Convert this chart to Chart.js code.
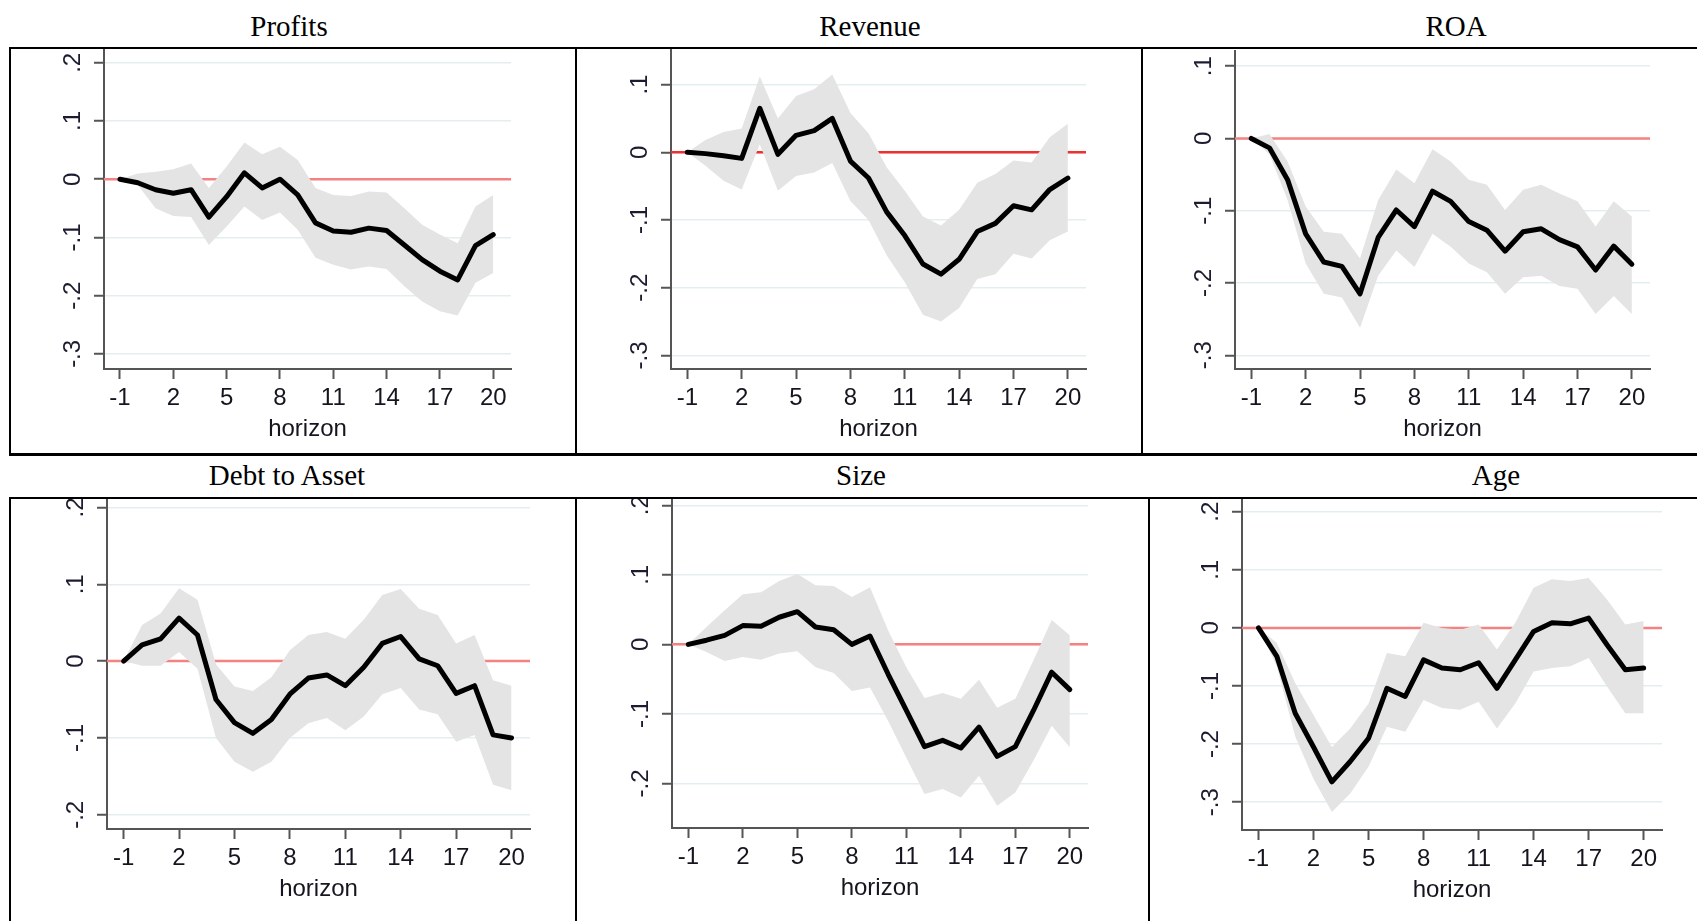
<!DOCTYPE html>
<html>
<head>
<meta charset="utf-8">
<script src="https://cdn.jsdelivr.net/npm/chart.js@4.4.1/dist/chart.umd.min.js"></script>
<style>
  html, body { margin: 0; padding: 0; background: #fff; }
  body { width: 1697px; height: 921px; position: relative; overflow: hidden; }
  .title { position: absolute; font-family: "Liberation Serif", "Times New Roman", serif; font-size: 29px; color: #000; transform: translate(-50%, -50%); white-space: nowrap; }
  .rule { position: absolute; background: #000; }
  canvas { position: absolute; }
</style>
</head>
<body>
<script>
// horizons and x tick labels
const horizon = [-1, 0, 1, 2, 3, 4, 5, 6, 7, 8, 9, 10, 11, 12, 13, 14, 15, 16, 17, 18, 19, 20];
const xTickLabels = [-1, 2, 5, 8, 11, 14, 17, 20];

// Profits
const profitsIrf = [0, -0.006, -0.018, -0.024, -0.018, -0.065, -0.03, 0.011, -0.015, 0, -0.027, -0.075, -0.089, -0.091, -0.084, -0.088, -0.113, -0.138, -0.158, -0.173, -0.114, -0.095];
const profitsHi  = [0, 0.01, 0.013, 0.017, 0.027, -0.015, 0.022, 0.063, 0.043, 0.056, 0.033, -0.015, -0.027, -0.029, -0.021, -0.023, -0.05, -0.078, -0.095, -0.11, -0.047, -0.027];
const profitsLo  = [0, -0.01, -0.05, -0.063, -0.065, -0.113, -0.081, -0.047, -0.07, -0.057, -0.087, -0.135, -0.147, -0.155, -0.15, -0.154, -0.184, -0.21, -0.227, -0.234, -0.178, -0.161];
const profitsTicks = [0.2, 0.1, 0, -0.1, -0.2, -0.3];

// Revenue
const revenueIrf = [0, -0.002, -0.005, -0.009, 0.065, -0.003, 0.025, 0.032, 0.05, -0.013, -0.038, -0.088, -0.123, -0.165, -0.18, -0.158, -0.117, -0.105, -0.079, -0.085, -0.055, -0.038];
const revenueHi  = [0, 0.018, 0.03, 0.035, 0.112, 0.05, 0.083, 0.093, 0.115, 0.058, 0.028, -0.022, -0.057, -0.095, -0.108, -0.085, -0.045, -0.032, -0.012, -0.015, 0.022, 0.042];
const revenueLo  = [0, -0.02, -0.042, -0.055, 0.012, -0.057, -0.035, -0.03, -0.016, -0.072, -0.1, -0.152, -0.192, -0.24, -0.25, -0.23, -0.187, -0.18, -0.15, -0.157, -0.13, -0.117];
const revenueTicks = [0.1, 0, -0.1, -0.2, -0.3];

// ROA
const roaIrf = [0, -0.013, -0.057, -0.132, -0.171, -0.177, -0.215, -0.137, -0.099, -0.122, -0.073, -0.087, -0.115, -0.127, -0.156, -0.129, -0.125, -0.14, -0.15, -0.182, -0.149, -0.174];
const roaHi  = [0, 0.006, -0.032, -0.094, -0.129, -0.132, -0.166, -0.085, -0.043, -0.062, -0.015, -0.032, -0.057, -0.064, -0.099, -0.071, -0.064, -0.076, -0.087, -0.122, -0.087, -0.108];
const roaLo  = [0, -0.022, -0.085, -0.173, -0.215, -0.22, -0.262, -0.19, -0.155, -0.178, -0.132, -0.15, -0.173, -0.185, -0.215, -0.192, -0.19, -0.204, -0.208, -0.243, -0.218, -0.243];
const roaTicks = [0.1, 0, -0.1, -0.2, -0.3];

// Debt to Asset
const debtIrf = [0, 0.021, 0.029, 0.056, 0.034, -0.05, -0.08, -0.094, -0.076, -0.043, -0.022, -0.018, -0.032, -0.008, 0.023, 0.032, 0.003, -0.006, -0.042, -0.032, -0.096, -0.1];
const debtHi  = [0, 0.047, 0.062, 0.095, 0.08, -0.004, -0.033, -0.039, -0.021, 0.014, 0.034, 0.038, 0.029, 0.054, 0.086, 0.094, 0.068, 0.06, 0.023, 0.034, -0.025, -0.032];
const debtLo  = [0, -0.006, -0.006, 0.012, -0.01, -0.1, -0.131, -0.144, -0.131, -0.1, -0.081, -0.074, -0.09, -0.072, -0.043, -0.035, -0.063, -0.069, -0.105, -0.096, -0.161, -0.168];
const debtTicks = [0.2, 0.1, 0, -0.1, -0.2];

// Size
const sizeIrf = [0, 0.006, 0.013, 0.027, 0.026, 0.039, 0.047, 0.025, 0.021, 0, 0.012, -0.043, -0.095, -0.147, -0.138, -0.149, -0.119, -0.161, -0.147, -0.095, -0.04, -0.065];
const sizeHi  = [0, 0.025, 0.049, 0.072, 0.075, 0.091, 0.101, 0.085, 0.084, 0.068, 0.082, 0.02, -0.033, -0.077, -0.07, -0.078, -0.051, -0.091, -0.078, -0.023, 0.035, 0.013];
const sizeLo  = [0, -0.011, -0.024, -0.018, -0.022, -0.013, -0.01, -0.033, -0.041, -0.067, -0.062, -0.11, -0.163, -0.215, -0.208, -0.22, -0.189, -0.232, -0.213, -0.167, -0.117, -0.148];
const sizeTicks = [0.2, 0.1, 0, -0.1, -0.2];

// Age
const ageIrf = [0, -0.049, -0.147, -0.205, -0.265, -0.23, -0.19, -0.104, -0.118, -0.055, -0.069, -0.072, -0.06, -0.104, -0.055, -0.006, 0.009, 0.007, 0.017, -0.029, -0.072, -0.069];
const ageHi  = [0, -0.026, -0.095, -0.15, -0.205, -0.173, -0.13, -0.043, -0.049, 0.009, 0, -0.003, 0.006, -0.037, 0.009, 0.069, 0.084, 0.081, 0.086, 0.049, 0.006, 0.012];
const ageLo  = [0, -0.066, -0.187, -0.26, -0.317, -0.285, -0.239, -0.17, -0.179, -0.124, -0.138, -0.141, -0.127, -0.173, -0.13, -0.075, -0.069, -0.066, -0.052, -0.101, -0.147, -0.147];
const ageTicks = [0.2, 0.1, 0, -0.1, -0.2, -0.3];

// panel layout: cell = table cell, area = plot area, page pixels
const panels = [
  { title: 'Profits', tx: 289, ty: 26, irf: profitsIrf, hi: profitsHi, lo: profitsLo, ticks: profitsTicks, yMin: -0.326, yMax: 0.222,
    cell: { x: 11, y: 49, w: 564, h: 404 }, area: { l: 104, r: 511, t: 50, b: 369 }, zero: '#f48282' },
  { title: 'Revenue', tx: 870, ty: 26, irf: revenueIrf, hi: revenueHi, lo: revenueLo, ticks: revenueTicks, yMin: -0.32, yMax: 0.151,
    cell: { x: 577, y: 49, w: 564, h: 404 }, area: { l: 671, r: 1086, t: 50, b: 369 }, zero: '#ee3030' },
  { title: 'ROA', tx: 1456, ty: 26, irf: roaIrf, hi: roaHi, lo: roaLo, ticks: roaTicks, yMin: -0.319, yMax: 0.121,
    cell: { x: 1143, y: 49, w: 554, h: 404 }, area: { l: 1235, r: 1650, t: 51, b: 369 }, zero: '#f48282' },
  { title: 'Debt to Asset', tx: 287, ty: 475, irf: debtIrf, hi: debtHi, lo: debtLo, ticks: debtTicks, yMin: -0.2185, yMax: 0.211,
    cell: { x: 11, y: 499, w: 564, h: 422 }, area: { l: 107, r: 530, t: 499, b: 829 }, zero: '#f48282' },
  { title: 'Size', tx: 861, ty: 475, irf: sizeIrf, hi: sizeHi, lo: sizeLo, ticks: sizeTicks, yMin: -0.264, yMax: 0.209,
    cell: { x: 577, y: 499, w: 571, h: 422 }, area: { l: 672, r: 1088, t: 499, b: 828 }, zero: '#f48282' },
  { title: 'Age', tx: 1496, ty: 475, irf: ageIrf, hi: ageHi, lo: ageLo, ticks: ageTicks, yMin: -0.348, yMax: 0.222,
    cell: { x: 1150, y: 499, w: 547, h: 422 }, area: { l: 1242, r: 1662, t: 499, b: 830 }, zero: '#f48282' }
];

// table rules
const rules = [
  [9, 47, 1688, 2], [9, 453, 1688, 3], [9, 47, 2, 409], [575, 47, 2, 409], [1141, 47, 2, 409],
  [9, 497, 1688, 2], [9, 497, 2, 424], [575, 497, 2, 424], [1148, 497, 2, 424]
];
rules.forEach(([x, y, w, h]) => {
  const d = document.createElement('div');
  d.className = 'rule';
  Object.assign(d.style, { left: x + 'px', top: y + 'px', width: w + 'px', height: h + 'px' });
  document.body.appendChild(d);
});

const tickFont = { family: '"Liberation Sans", Arial, sans-serif', size: 24, lineHeight: 1.2 };
const titleFont = { family: '"Liberation Sans", Arial, sans-serif', size: 24, lineHeight: 1.0 };
const tickLen = 10;
const tickPad = 5;
// chart.js counts the tick padding twice in the axis height
const xAxisH = tickLen + 2 * tickPad + 24 * 1.2 + 24 * 1.0 + 0 + 4;

function stataNum(v) {
  if (Math.abs(v) < 1e-9) return '0';
  return (v < 0 ? '-' : '') + '.' + Math.round(Math.abs(v) * 10);
}

const stataExtras = {
  id: 'stataExtras',
  beforeDatasetsDraw(chart, args, opts) {
    const { ctx, chartArea: a, scales: { y } } = chart;
    const y0 = y.getPixelForValue(0);
    ctx.save();
    ctx.strokeStyle = opts.zeroColor;
    ctx.lineWidth = 2.5;
    ctx.beginPath();
    ctx.moveTo(a.left, y0);
    ctx.lineTo(a.right, y0);
    ctx.stroke();
    ctx.restore();
  },
  afterDraw(chart) {
    const { ctx, scales: { y } } = chart;
    ctx.save();
    ctx.font = '24px "Liberation Sans", Arial, sans-serif';
    ctx.fillStyle = '#1c1c30';
    ctx.textAlign = 'center';
    ctx.textBaseline = 'middle';
    y.ticks.forEach(t => {
      ctx.save();
      ctx.translate(y.right - 31, y.getPixelForValue(t.value));
      ctx.rotate(-Math.PI / 2);
      ctx.fillText(stataNum(t.value), 0, 0);
      ctx.restore();
    });
    ctx.restore();
  }
};

panels.forEach(p => {
  const t = document.createElement('div');
  t.className = 'title';
  t.textContent = p.title;
  t.style.left = p.tx + 'px';
  t.style.top = p.ty + 'px';
  document.body.appendChild(t);

  const c = p.cell, a = p.area;
  const cv = document.createElement('canvas');
  cv.width = c.w;
  cv.height = c.h;
  cv.style.left = c.x + 'px';
  cv.style.top = c.y + 'px';
  document.body.appendChild(cv);

  const pts = arr => horizon.map((h, i) => ({ x: h, y: arr[i] }));

  new Chart(cv.getContext('2d'), {
    type: 'line',
    data: {
      datasets: [
        { data: pts(p.irf), borderColor: '#000', borderWidth: 5, pointRadius: 0, fill: false,
          borderJoinStyle: 'round', borderCapStyle: 'round' },
        { data: pts(p.hi), borderWidth: 0, borderColor: 'rgba(0,0,0,0)', pointRadius: 0,
          backgroundColor: '#e4e4e4', fill: '+1' },
        { data: pts(p.lo), borderWidth: 0, borderColor: 'rgba(0,0,0,0)', pointRadius: 0, fill: false }
      ]
    },
    options: {
      responsive: false,
      animation: false,
      devicePixelRatio: 1,
      layout: {
        padding: {
          left: a.l - c.x - tickLen,
          right: c.x + c.w - a.r,
          top: a.t - c.y,
          bottom: c.y + c.h - a.b - xAxisH
        }
      },
      plugins: {
        legend: { display: false },
        tooltip: { enabled: false },
        stataExtras: { zeroColor: p.zero }
      },
      scales: {
        x: {
          type: 'linear',
          min: -1.9,
          max: 21,
          afterBuildTicks: s => { s.ticks = xTickLabels.map(v => ({ value: v })); },
          ticks: { autoSkip: false, maxRotation: 0, padding: tickPad, font: tickFont, color: '#15151f',
                   callback: v => String(v) },
          grid: { drawOnChartArea: false, drawTicks: true, tickLength: tickLen, tickColor: '#555', tickWidth: 2 },
          border: { display: true, color: '#555', width: 2 },
          title: { display: true, text: 'horizon', font: titleFont, color: '#15151f', padding: { top: 0, bottom: 4 } }
        },
        y: {
          type: 'linear',
          min: p.yMin,
          max: p.yMax,
          afterBuildTicks: s => { s.ticks = p.ticks.map(v => ({ value: v })); },
          ticks: { display: false },
          grid: { color: '#e3eef0', lineWidth: 1.5, drawTicks: true, tickLength: tickLen, tickColor: '#555', tickWidth: 2 },
          border: { display: true, color: '#555', width: 2 }
        }
      }
    },
    plugins: [stataExtras]
  });
});
</script>
</body>
</html>
